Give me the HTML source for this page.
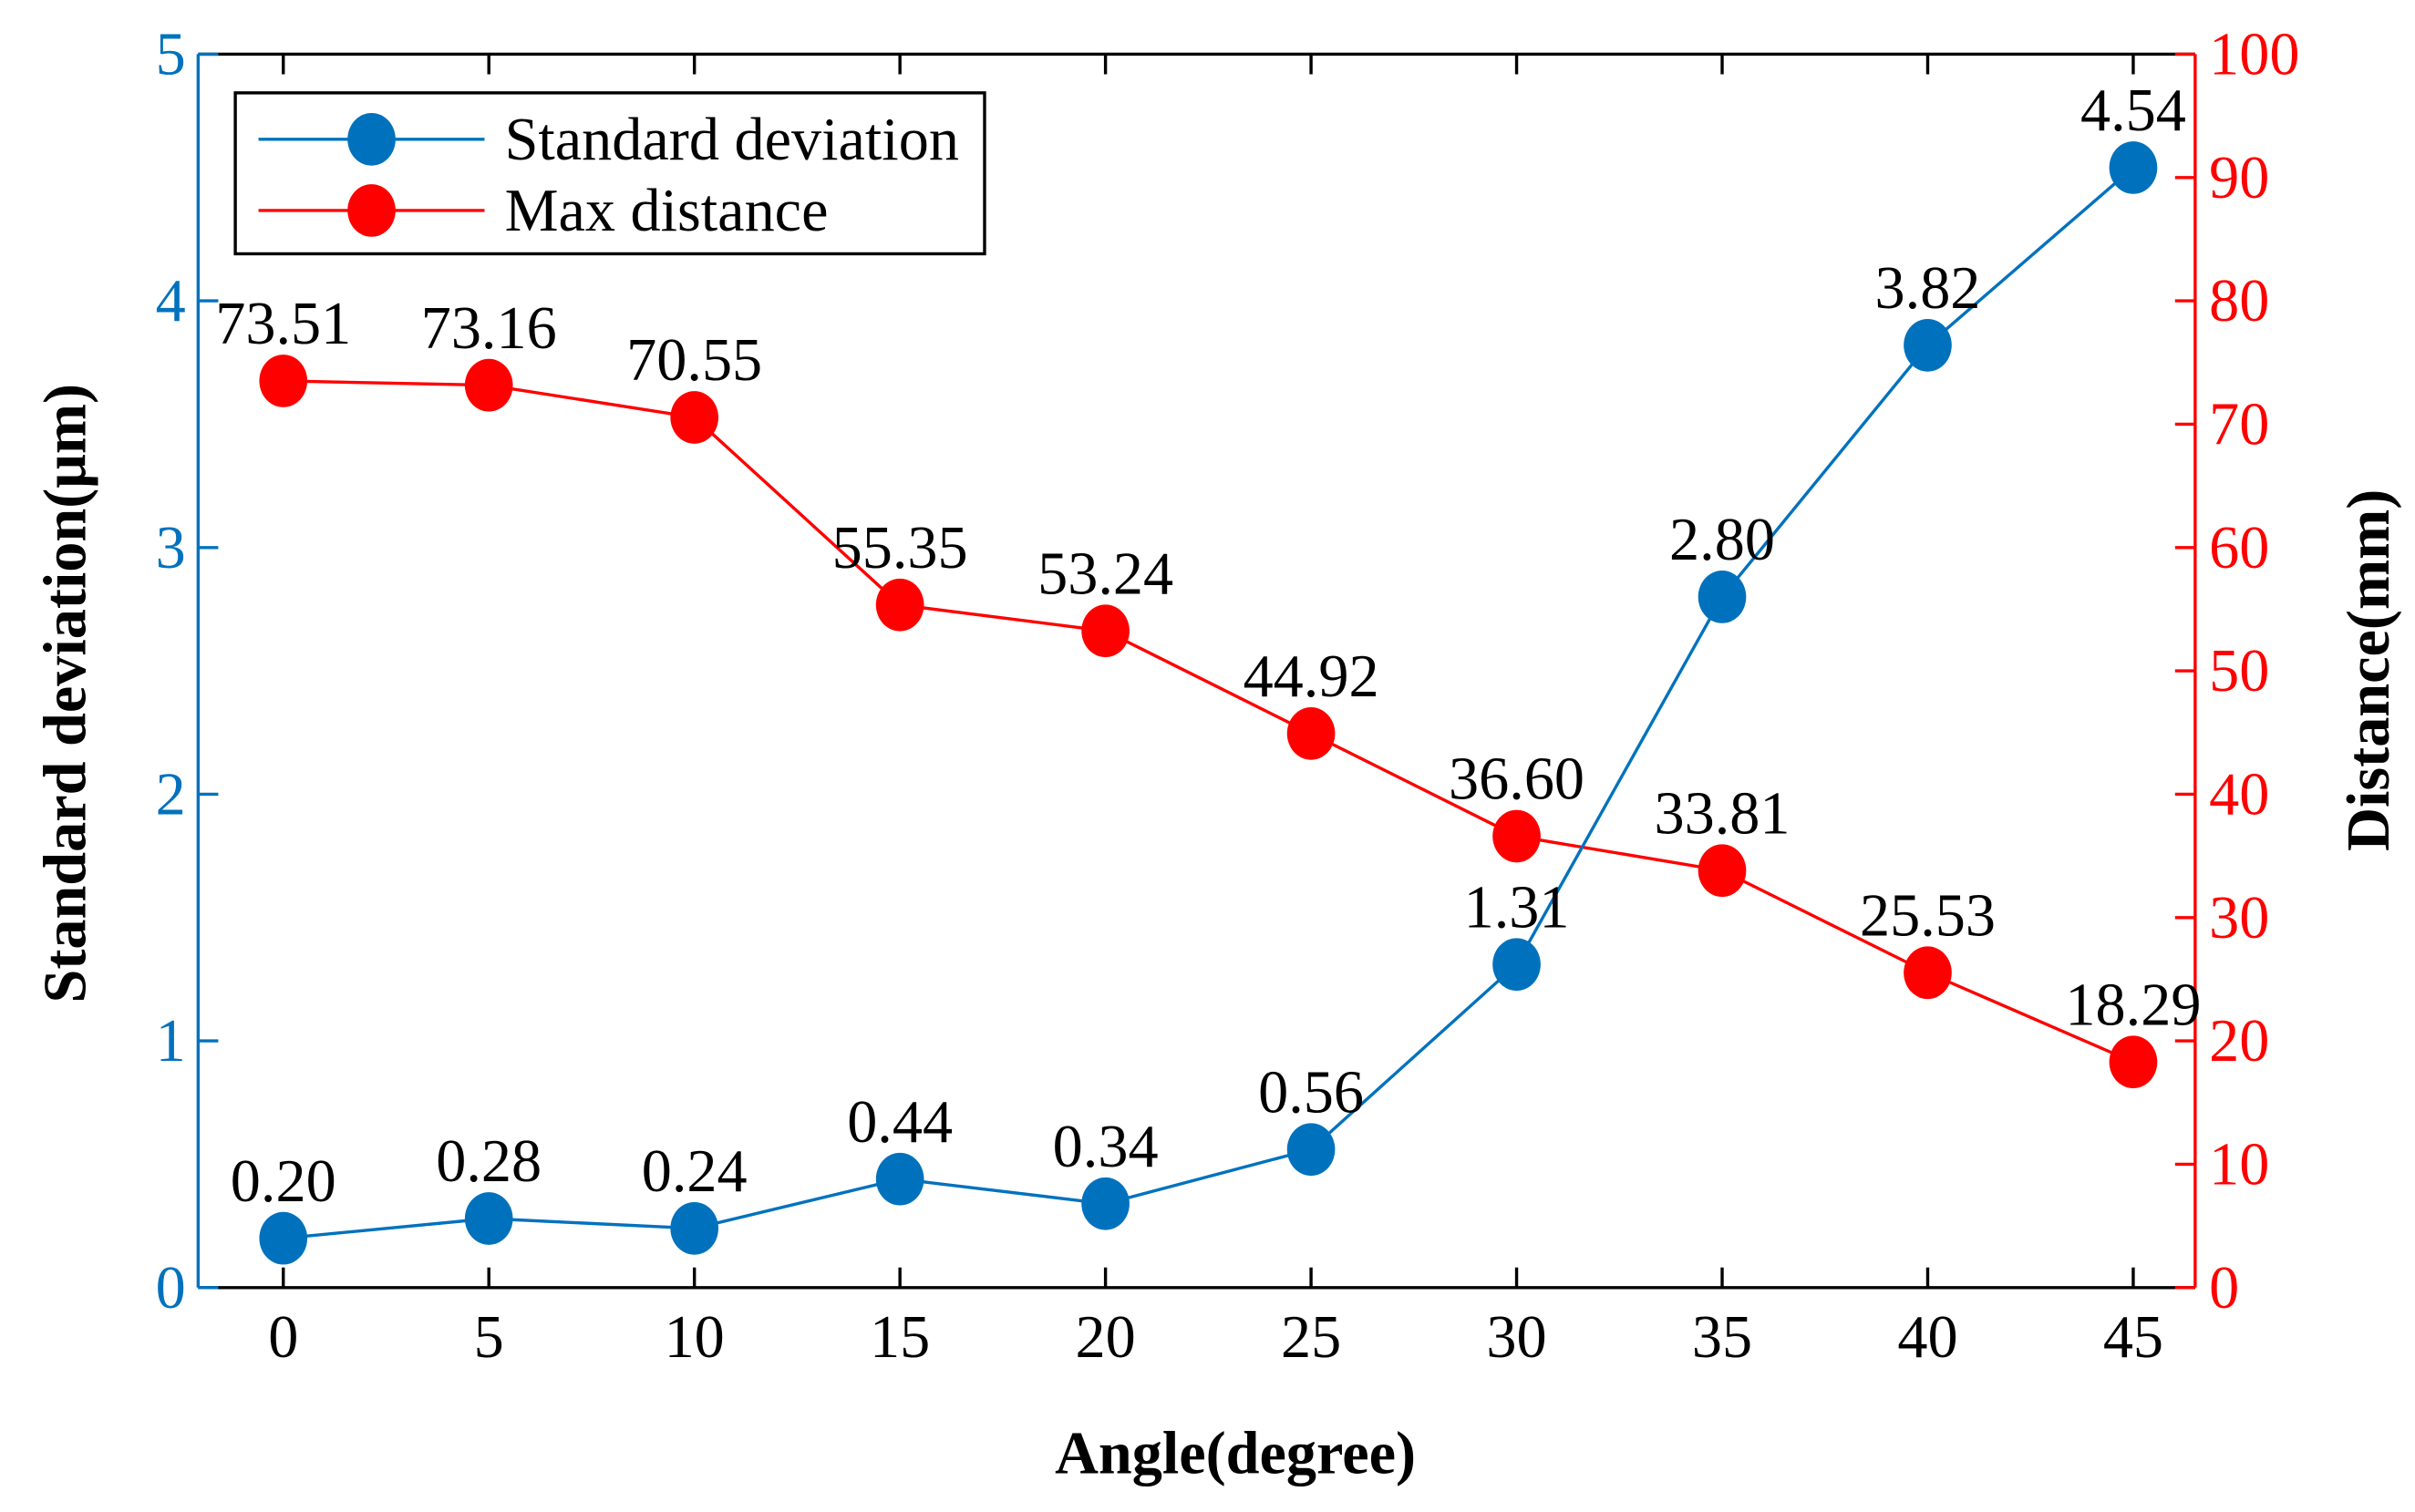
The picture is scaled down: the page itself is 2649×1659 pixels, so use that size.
<!DOCTYPE html>
<html><head><meta charset="utf-8"><style>
html,body{margin:0;padding:0;background:#fff}
svg{display:block}
text{font-family:"Liberation Serif",serif}
</style></head><body>
<svg id="chart" width="2649" height="1659" viewBox="0 0 1560 977" preserveAspectRatio="none" xmlns="http://www.w3.org/2000/svg"></svg>
<script>
const angles=[0,5,10,15,20,25,30,35,40,45];
const stdDev=[0.20,0.28,0.24,0.44,0.34,0.56,1.31,2.80,3.82,4.54];
const maxDist=[73.51,73.16,70.55,55.35,53.24,44.92,36.60,33.81,25.53,18.29];
const stdLabels=["0.20","0.28","0.24","0.44","0.34","0.56","1.31","2.80","3.82","4.54"];
const distLabels=["73.51","73.16","70.55","55.35","53.24","44.92","36.60","33.81","25.53","18.29"];
const leftTicks=[0,1,2,3,4,5];
const rightTicks=[0,10,20,30,40,50,60,70,80,90,100];

const NS="http://www.w3.org/2000/svg";
const svg=document.getElementById('chart');
const L=128,R=1418,T=35,B=832;
const BLUE="#0072BD",RED="#FF0000";
const FS=39;
const xS=a=>183+(a-0)*(1378-183)/45;
const yL=v=>B-v*(B-T)/5;
const yR=v=>B-v*(B-T)/100;
function el(tag,attrs,txt){const e=document.createElementNS(NS,tag);for(const k in attrs)e.setAttribute(k,attrs[k]);if(txt!==undefined)e.textContent=txt;svg.appendChild(e);return e;}

let e;
e=el('line',{x1:L,y1:T,x2:R,y2:T,stroke:'#000','stroke-width':2});


e=el('line',{x1:L,y1:B,x2:R,y2:B,stroke:'#000','stroke-width':2});


e=el('line',{x1:L,y1:T,x2:L,y2:B,stroke:BLUE,'stroke-width':2});


e=el('line',{x1:R,y1:T,x2:R,y2:B,stroke:RED,'stroke-width':2});



angles.forEach(a=>{
  const x=xS(a);
  e=el('line',{x1:x,y1:B,x2:x,y2:B-13,stroke:'#000','stroke-width':2});
  
  
  e=el('line',{x1:x,y1:T,x2:x,y2:T+13,stroke:'#000','stroke-width':2});
  
  
  e=el('text',{x:x,y:B+45,'font-size':FS,'text-anchor':'middle',fill:'#000'},String(a));
  
  
});
leftTicks.forEach(v=>{
  const y=yL(v);
  e=el('line',{x1:L,y1:y,x2:L+13,y2:y,stroke:BLUE,'stroke-width':2});
  
  
  e=el('text',{x:L-8,y:y+13,'font-size':FS,'text-anchor':'end',fill:BLUE},String(v));
  
  
});
rightTicks.forEach(v=>{
  const y=yR(v);
  e=el('line',{x1:R,y1:y,x2:R-13,y2:y,stroke:RED,'stroke-width':2});
  
  
  e=el('text',{x:R+9,y:y+13,'font-size':FS,'text-anchor':'start',fill:RED},String(v));
  
  
});

e=el('text',{x:798,y:952,'font-size':FS,'font-weight':'bold','text-anchor':'middle',fill:'#000'},'Angle(degree)');


e=el('text',{x:0,y:0,'font-size':FS,'font-weight':'bold','text-anchor':'middle',fill:'#000',transform:'translate(55,448) rotate(-90)'},'Standard deviation(\u03bcm)');


e=el('text',{x:0,y:0,'font-size':FS,'font-weight':'bold','text-anchor':'middle',fill:'#000',transform:'translate(1543,433) rotate(-90)'},'Distance(mm)');



function series(vals,yf,color,name,labels){
  const pts=vals.map((v,i)=>xS(angles[i])+','+yf(v)).join(' ');
  e=el('polyline',{points:pts,fill:'none',stroke:color,'stroke-width':2});
  
  
  vals.forEach((v,i)=>{
    e=el('ellipse',{cx:xS(angles[i]),cy:yf(v),rx:15.5,ry:17,fill:color});
    
    
    e=el('text',{x:xS(angles[i]),y:yf(v)-24,'font-size':FS,'text-anchor':'middle',fill:'#000'},labels[i]);
    
    
  });
}
series(maxDist,yR,RED,'max-distance',distLabels);
series(stdDev,yL,BLUE,'standard-deviation',stdLabels);

e=el('rect',{x:152,y:60,width:484,height:104,fill:'#fff',stroke:'#000','stroke-width':2});


[[BLUE,'Standard deviation',90],[RED,'Max distance',136]].forEach(([c,t,y],i)=>{
  e=el('line',{x1:167,y1:y,x2:313,y2:y,stroke:c,'stroke-width':2});
  
  
  e=el('ellipse',{cx:240,cy:y,rx:15.5,ry:17,fill:c});
  
  
  e=el('text',{x:326,y:y+13,'font-size':FS,fill:'#000'},t);
  
  
});
</script>
</body></html>
